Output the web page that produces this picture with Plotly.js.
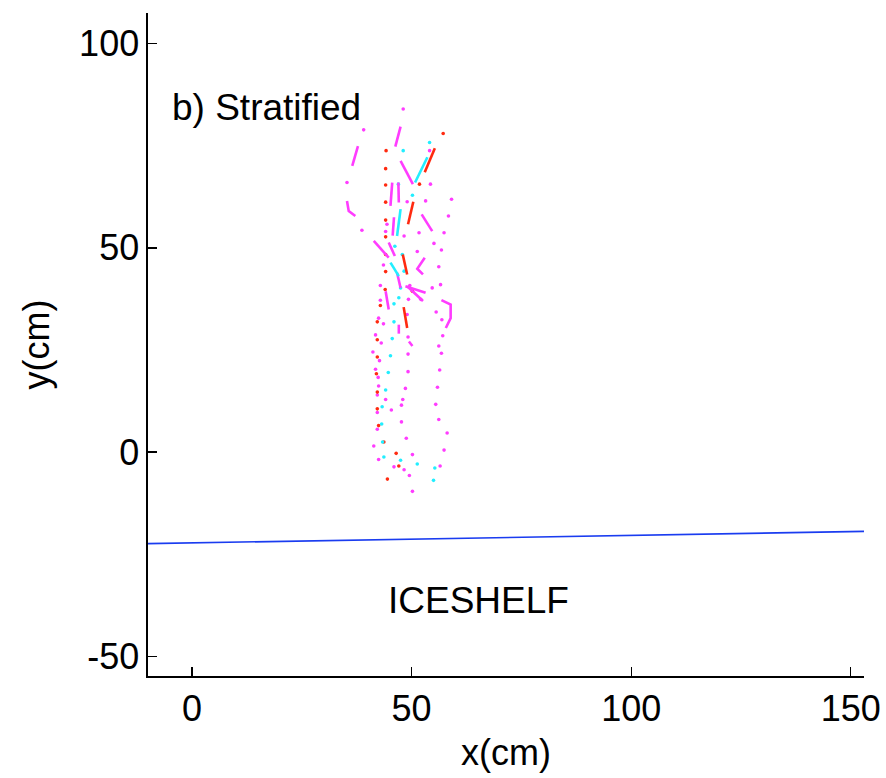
<!DOCTYPE html>
<html>
<head>
<meta charset="utf-8">
<script src="https://cdn.plot.ly/plotly-3.0.1.min.js"></script>
<style>html,body{margin:0;padding:0;background:#fff;}#chart{width:886px;height:778px;}</style>
</head>
<body>
<div id="chart"></div>
<script>
// ---- data (cm) ----
const magentaDotsX = [48.1,39.1,54.1,35.3,38.7,54.3,49.0,53.2,59.1,58.4,57.4,51.7,48.3,44.4,44.1,51.3,55.1,56.8,56.2,43.6,49.6,42.9,54.7,56.6,42.9,49.3,52.1,49.0,42.5,43.6,55.6,56.9,57.1,41.8,43.1,49.2,56.2,56.8,41.2,42.7,49.2,41.8,42.4,49.2,56.4,42.5,42.2,48.6,55.9,44.1,48.0,47.7,55.5,42.2,45.4,47.7,56.2,42.2,58.1,48.8,41.4,57.4,50.2,42.5,46.0,48.3,56.5,49.5,50.2];
const magentaDotsY = [84.0,78.9,73.8,66.0,54.3,65.6,61.3,61.5,61.9,57.8,53.7,53.7,52.9,55.8,54.0,49.1,51.1,49.5,45.4,45.8,40.8,40.8,40.2,41.0,37.2,37.4,37.4,33.7,32.8,31.4,34.3,32.4,28.5,28.7,26.7,28.2,26.0,24.2,24.5,22.4,24.0,20.3,18.3,19.7,20.1,16.2,14.0,15.6,15.9,12.9,12.9,11.5,11.7,9.7,10.3,7.4,8.0,5.6,4.7,3.4,1.5,0.5,-0.6,-1.8,-3.6,-4.3,-3.4,-5.7,-9.6];
const redDotsX = [44.2,44.1,44.1,44.1,44.1,44.1,44.1,44.1,44.0,42.9,42.2,42.2,42.2,42.0,42.2,42.2,42.5,43.7,57.2,51.8,50.2,46.5,47.1,44.5];
const redDotsY = [73.8,69.4,65.4,61.2,56.8,52.7,48.4,44.2,39.8,35.9,31.9,27.5,23.3,19.2,14.7,10.6,6.5,2.5,78.0,65.6,39.4,-0.3,-3.4,-6.6];
const cyanDotsX = [48.1,54.1,47.0,50.2,46.2,47.9,48.3,47.5,47.1,46.0,46.0,45.6,45.2,44.7,44.1,43.3,43.2,43.4,43.7,47.5,51.3,55.3,55.0];
const cyanDotsY = [73.8,75.8,65.6,62.9,50.4,48.4,44.3,40.2,37.8,36.3,31.9,27.8,23.6,19.5,15.2,11.1,6.9,2.5,-1.2,-2.0,-2.9,-3.9,-6.9];
// track segments (null separates segments)
const magentaSegX = [47.5,46.3,null,37.8,36.5,null,47.5,50.3,null,35.3,35.7,37.2,null,45.6,45.2,null,47.0,47.1,null,52.3,54.7,null,41.4,44.8,null,44.8,46.2,null,53.0,51.3,52.6,null,46.7,47.5,null,48.6,53.2,null,49.0,52.6,null,56.8,58.9,58.9,57.8,null,44.1,44.8,null,47.1,47.1,null,49.4,50.2,null,46.0,45.7];
const magentaSegY = [79.7,74.8,null,74.9,70.1,null,71.3,65.6,null,61.5,59.0,57.8,null,66.0,60.3,null,66.0,61.1,null,58.2,54.1,null,51.7,47.6,null,51.3,48.0,null,47.6,44.9,43.5,null,43.9,40.2,null,40.6,39.0,null,40.6,37.0,null,37.2,36.1,32.8,30.4,null,39.4,34.9,null,31.2,29.0,null,27.1,26.0,null,57.5,53.0];
const redSegX = [55.3,53.0,null,50.4,49.2,null,48.0,49.0,null,48.2,49.0];
const redSegY = [74.4,68.5,null,61.3,55.8,null,48.4,43.5,null,35.5,30.4];
const cyanSegX = [53.6,50.8,null,47.5,46.7,null,45.2,47.1];
const cyanSegY = [72.2,66.0,null,59.5,52.9,null,46.4,43.1];
const iceX = [-10,153];
const iceY = [-22.4,-19.4];
const xTicks = [0,50,100,150];
const yTicks = [-50,0,50,100];

const FONT = 'Liberation Sans, Arial, Helvetica, sans-serif';
const dot = (x,y,c) => ({x:x,y:y,type:'scatter',mode:'markers',marker:{color:c,size:3.6},hoverinfo:'skip'});
const seg = (x,y,c) => ({x:x,y:y,type:'scatter',mode:'lines',line:{color:c,width:2.6},connectgaps:false,hoverinfo:'skip'});

const data = [
  {x:iceX,y:iceY,type:'scatter',mode:'lines',line:{color:'#1a3cf0',width:1.6},hoverinfo:'skip'},
  dot(magentaDotsX,magentaDotsY,'#ff3cff'),
  dot(redDotsX,redDotsY,'#ff2a10'),
  dot(cyanDotsX,cyanDotsY,'#22eeff'),
  seg(magentaSegX,magentaSegY,'#ff3cff'),
  seg(redSegX,redSegY,'#ff2a10'),
  seg(cyanSegX,cyanSegY,'#22eeff')
];

const layout = {
  width:886,height:778,
  paper_bgcolor:'#fff',plot_bgcolor:'#fff',
  showlegend:false,
  margin:{l:148,r:22,t:13,b:102},
  font:{family:FONT,size:36,color:'#000'},
  xaxis:{range:[-10,153],tickvals:xTicks,ticktext:xTicks.map(String),ticks:'inside',ticklen:9,tickwidth:1.3,tickcolor:'#000',
    showline:true,linecolor:'#000',linewidth:1.6,showgrid:false,zeroline:false,
    tickfont:{family:FONT,size:36,color:'#000'},
    title:{text:'x(cm)',font:{family:FONT,size:36,color:'#000'},standoff:12}},
  yaxis:{range:[-54.8,107.5],tickvals:yTicks,ticktext:yTicks.map(String),ticks:'inside',ticklen:9,tickwidth:1.3,tickcolor:'#000',
    showline:true,linecolor:'#000',linewidth:1.6,showgrid:false,zeroline:false,
    tickfont:{family:FONT,size:36,color:'#000'},
    title:{text:'y(cm)',font:{family:FONT,size:36,color:'#000'},standoff:18}},
  annotations:[
    {x:-5,y:84.4,xref:'x',yref:'y',text:'b) Stratified',showarrow:false,xanchor:'left',yanchor:'middle',font:{family:FONT,size:37,color:'#000'}},
    {x:65.2,y:-36.2,xref:'x',yref:'y',text:'ICESHELF',showarrow:false,xanchor:'center',yanchor:'middle',font:{family:FONT,size:37,color:'#000'}}
  ]
};
Plotly.newPlot('chart',data,layout,{staticPlot:true,displayModeBar:false});
</script>
</body>
</html>
